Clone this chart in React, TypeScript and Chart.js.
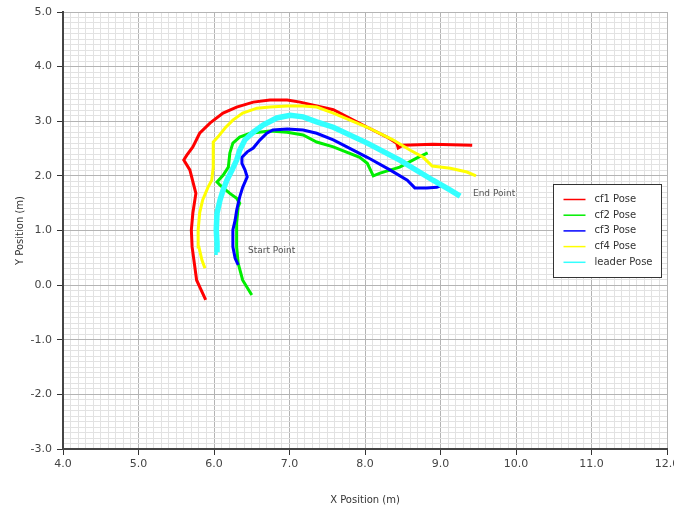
import React, { useEffect, useRef } from "react";
import { Chart, registerables } from "chart.js";

Chart.register(...registerables);

// Follower and leader trajectories (metres)
const cf1X = [5.89, 5.77, 5.71, 5.70, 5.72, 5.76, 5.68, 5.60, 5.64, 5.72, 5.81, 5.95, 6.12, 6.30, 6.52, 6.74, 6.97, 7.14, 7.58, 8.03, 8.29, 8.42, 8.44, 8.50, 8.90, 9.42];
const cf1Y = [-0.27, 0.09, 0.70, 1.01, 1.32, 1.68, 2.11, 2.29, 2.38, 2.53, 2.78, 2.97, 3.15, 3.26, 3.35, 3.39, 3.39, 3.35, 3.21, 2.89, 2.71, 2.60, 2.51, 2.56, 2.58, 2.56];

const cf2X = [6.50, 6.38, 6.32, 6.30, 6.30, 6.32, 6.34, 6.30, 6.21, 6.08, 6.04, 6.12, 6.19, 6.21, 6.25, 6.34, 6.48, 6.74, 6.97, 7.18, 7.36, 7.58, 7.93, 8.03, 8.11, 8.20, 8.46, 8.69, 8.83];
const cf2Y = [-0.18, 0.09, 0.40, 0.70, 1.14, 1.43, 1.50, 1.59, 1.68, 1.83, 1.89, 2.01, 2.16, 2.42, 2.60, 2.71, 2.78, 2.82, 2.80, 2.75, 2.62, 2.53, 2.34, 2.23, 2.00, 2.05, 2.16, 2.33, 2.42];

const cf3X = [6.32, 6.28, 6.25, 6.25, 6.28, 6.30, 6.34, 6.38, 6.44, 6.41, 6.37, 6.37, 6.44, 6.52, 6.61, 6.70, 6.78, 6.97, 7.18, 7.36, 7.58, 8.03, 8.33, 8.56, 8.66, 8.82, 8.95, 9.03];
const cf3Y = [0.37, 0.49, 0.70, 1.01, 1.19, 1.37, 1.61, 1.79, 1.98, 2.11, 2.23, 2.34, 2.44, 2.51, 2.66, 2.78, 2.84, 2.86, 2.84, 2.78, 2.66, 2.34, 2.11, 1.92, 1.78, 1.78, 1.79, 1.83];

const cf4X = [5.88, 5.84, 5.80, 5.79, 5.81, 5.85, 5.92, 5.97, 5.99, 5.99, 5.99, 6.05, 6.15, 6.25, 6.38, 6.57, 6.74, 6.97, 7.18, 7.36, 7.58, 8.03, 8.37, 8.60, 8.77, 8.89, 9.13, 9.35, 9.47];
const cf4Y = [0.31, 0.46, 0.70, 1.01, 1.32, 1.56, 1.79, 1.92, 2.16, 2.34, 2.62, 2.71, 2.88, 3.02, 3.15, 3.24, 3.26, 3.28, 3.28, 3.26, 3.15, 2.89, 2.66, 2.47, 2.34, 2.18, 2.14, 2.07, 2.00];

const leaderX = [6.05, 6.04, 6.03, 6.04, 6.08, 6.12, 6.17, 6.24, 6.30, 6.34, 6.41, 6.52, 6.65, 6.83, 7.01, 7.18, 7.36, 7.58, 8.03, 8.46, 8.90, 9.13, 9.26];
const leaderY = [0.60, 0.77, 1.01, 1.32, 1.56, 1.74, 1.92, 2.11, 2.29, 2.47, 2.66, 2.80, 2.93, 3.06, 3.11, 3.08, 2.99, 2.89, 2.60, 2.29, 1.92, 1.74, 1.63];

const seriesNames = ["cf1 Pose", "cf2 Pose", "cf3 Pose", "cf4 Pose", "leader Pose"];
const seriesColors = ["#ff0000", "#00ee00", "#0000ff", "#ffff00", "#33ffff"];

const xRange = [4, 12];
const yRange = [-3, 5];

// Annotation labels at data coordinates
const notes = [
  { text: "Start Point", x: 6.45, y: 0.63 },
  { text: "End Point", x: 9.43, y: 1.67 },
];

const toPoints = (xs: number[], ys: number[]) => xs.map((x, i) => ({ x, y: ys[i] }));

const isMajor = (v: number) => Math.abs(v - Math.round(v)) < 1e-6;

const FONT = "'DejaVu Sans', sans-serif";

const annotationPlugin = {
  id: "notes",
  afterDatasetsDraw(chart: any) {
    const { ctx, scales } = chart;
    ctx.save();
    ctx.font = `9px ${FONT}`;
    ctx.fillStyle = "#555555";
    ctx.textAlign = "left";
    ctx.textBaseline = "middle";
    notes.forEach((n) => {
      ctx.fillText(n.text, scales.x.getPixelForValue(n.x), scales.y.getPixelForValue(n.y));
    });
    ctx.restore();
  },
};

const legendPlugin = {
  id: "boxLegend",
  afterDraw(chart: any) {
    const { ctx, chartArea } = chart;
    const left = Math.round(chartArea.right - 114) + 0.5;
    const top = Math.round(chartArea.top + 172) + 0.5;
    const w = 108;
    const h = 93;
    ctx.save();
    ctx.fillStyle = "#ffffff";
    ctx.fillRect(left, top, w, h);
    ctx.strokeStyle = "#333333";
    ctx.lineWidth = 1;
    ctx.strokeRect(left, top, w, h);
    ctx.font = `10px ${FONT}`;
    ctx.textAlign = "left";
    ctx.textBaseline = "middle";
    seriesNames.forEach((name, i) => {
      const y = top + 15 + i * 15.7;
      ctx.strokeStyle = seriesColors[i];
      ctx.lineWidth = 1.5;
      ctx.beginPath();
      ctx.moveTo(left + 10, y);
      ctx.lineTo(left + 32, y);
      ctx.stroke();
      ctx.fillStyle = "#333333";
      ctx.fillText(name, left + 41, y);
    });
    ctx.restore();
  },
};

export default function App() {
  const canvasRef = useRef<HTMLCanvasElement | null>(null);

  useEffect(() => {
    if (!canvasRef.current) return;
    const sets = [
      toPoints(cf1X, cf1Y),
      toPoints(cf2X, cf2Y),
      toPoints(cf3X, cf3Y),
      toPoints(cf4X, cf4Y),
      toPoints(leaderX, leaderY),
    ];
    const chart = new Chart(canvasRef.current, {
      type: "scatter",
      data: {
        datasets: sets.map((data, i) => ({
          label: seriesNames[i],
          data,
          showLine: true,
          borderColor: seriesColors[i],
          backgroundColor: seriesColors[i],
          borderWidth: i === 4 ? 5.5 : 3,
          pointRadius: 0,
          tension: 0,
          order: 4 - i,
        })),
      },
      options: {
        animation: false,
        responsive: false,
        maintainAspectRatio: false,
        layout: { padding: { top: 12, left: 10, right: 33, bottom: 0 } },
        plugins: {
          legend: { display: false },
          tooltip: { enabled: false },
        },
        scales: {
          x: {
            type: "linear",
            min: xRange[0],
            max: xRange[1],
            afterFit: (s: any) => {
              s.height = 57;
            },
            ticks: {
              stepSize: 0.1,
              autoSkip: false,
              maxRotation: 0,
              padding: 3,
              color: "#444444",
              font: { family: FONT, size: 11 },
              callback: (v: any) => (isMajor(Number(v)) ? Number(v).toFixed(1) : ""),
            },
            grid: {
              color: (c: any) => (isMajor(c.tick.value) ? "#b4b4b4" : "#e2e2e2"),
              tickColor: (c: any) => (isMajor(c.tick.value) ? "#333333" : "rgba(0,0,0,0)"),
              tickLength: 6,
              lineWidth: 1,
            },
            border: { color: "#444444", width: 2 },
            title: {
              display: true,
              text: "X Position (m)",
              color: "#333333",
              font: { family: FONT, size: 10 },
              padding: { top: 3, bottom: 0 },
            },
          },
          y: {
            type: "linear",
            min: yRange[0],
            max: yRange[1],
            afterFit: (s: any) => {
              s.width = 53;
            },
            ticks: {
              stepSize: 0.1,
              autoSkip: false,
              padding: 5,
              color: "#444444",
              font: { family: FONT, size: 11 },
              callback: (v: any) => (isMajor(Number(v)) ? Number(v).toFixed(1) : ""),
            },
            grid: {
              color: (c: any) => (isMajor(c.tick.value) ? "#b4b4b4" : "#e2e2e2"),
              tickColor: (c: any) => (isMajor(c.tick.value) ? "#333333" : "rgba(0,0,0,0)"),
              tickLength: 6,
              lineWidth: 1,
            },
            border: { color: "#444444", width: 2 },
            title: {
              display: true,
              text: "Y Position (m)",
              color: "#333333",
              font: { family: FONT, size: 10 },
              padding: { top: 4, bottom: 0 },
            },
          },
        },
      },
      plugins: [annotationPlugin, legendPlugin],
    });
    return () => chart.destroy();
  }, []);

  return (
    <div
      style={{
        position: "fixed",
        left: 0,
        top: 0,
        width: 674,
        height: 506,
        overflow: "hidden",
        background: "#ffffff",
      }}
    >
      <canvas ref={canvasRef} width={700} height={506} style={{ display: "block" }} />
    </div>
  );
}
